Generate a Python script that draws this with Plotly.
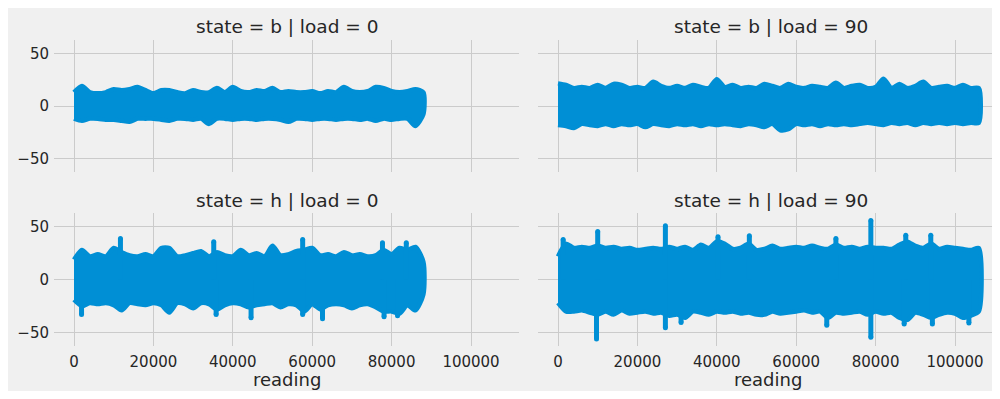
import plotly.graph_objects as go

# ---------------- data ----------------
step = 2000  # readings between envelope samples

upper_b0 = [13, 19, 13, 12, 13, 16, 15, 16, 18, 15, 12, 15, 15, 13, 12, 15, 13, 13, 17, 13, 18, 14, 13, 15, 14,
            17, 13, 14, 13, 13, 14, 12, 14, 13, 18, 14, 13, 14, 18, 17, 14, 13, 14, 16, 13]
lower_b0 = [-12, -14, -12, -12, -13, -13, -14, -15, -12, -12, -12, -13, -14, -12, -12, -13, -12, -17, -12, -12,
            -13, -12, -12, -13, -12, -12, -13, -15, -12, -12, -13, -12, -12, -13, -12, -12, -13, -12, -14, -12,
            -13, -12, -12, -19, -8]

upper_b90 = [21.5, 20, 17, 18, 17, 20, 17, 21, 20, 17, 18, 17, 23, 19, 17, 19, 17, 20, 18, 17, 25.5, 18, 20, 17,
             18, 17, 21, 19, 17, 21, 18, 17, 19, 18, 17, 22, 17, 19, 20, 17, 18, 26, 17, 21, 17, 19, 23, 17, 18,
             19, 17, 20, 17, 17]
lower_b90 = [-18, -19, -21, -17, -18, -19, -17, -19, -17, -18, -17, -20, -17, -18, -19, -17, -18, -17, -19, -17,
             -18, -17, -18, -19, -17, -18, -20, -17, -23, -22, -17, -18, -17, -19, -17, -18, -17, -18, -17, -16,
             -17, -18, -16, -17, -16, -18, -16, -17, -16, -17, -16, -17, -16, -16]

upper_h0 = [19, 28, 22, 24, 22, 30, 26, 23, 22, 24, 22, 30, 30, 22, 23, 25, 27, 22, 26, 23, 22, 28, 23, 25, 22,
            32, 23, 24, 27, 28, 30, 23, 24, 22, 26, 23, 24, 22, 23, 28, 24, 30, 28, 31, 17]
lower_h0 = [-19, -25, -22, -23, -22, -24, -29, -22, -23, -24, -22, -24, -31, -22, -23, -27, -22, -23, -28, -24,
            -22, -23, -26, -24, -23, -22, -26, -23, -24, -30, -23, -28, -24, -23, -24, -27, -24, -23, -26, -30,
            -30, -32, -24, -29, -14]

upper_h90 = [22, 34, 30, 31, 30, 32, 30, 31, 29, 30, 28, 29, 30, 29, 31, 29, 31, 28, 33, 30, 36, 34, 29, 30, 34,
             28, 29, 32, 29, 30, 31, 30, 32, 30, 29, 33, 30, 31, 29, 31, 30, 30, 29, 33, 36, 32, 30, 34, 29, 31,
             30, 29, 28, 30]
lower_h90 = [-22, -30, -30, -29, -31, -33, -30, -33, -29, -32, -31, -30, -32, -31, -34, -33, -36, -30, -31, -33,
             -30, -31, -30, -32, -31, -33, -33, -30, -32, -31, -30, -29, -31, -30, -36, -31, -32, -31, -30, -33,
             -30, -32, -31, -36, -38, -31, -33, -36, -33, -31, -32, -36, -34, -30]

# narrow peaks (reading, value)
spike_x_h0 = [11700, 35200, 57600, 77700, 83700, 1900, 35800, 44600, 57600, 62600, 78100, 81500]
spike_y_h0 = [39, 36, 38, 35, 35, -33, -33, -36, -33, -37, -35, -34]
spike_x_h90 = [1300, 10000, 27050, 40300, 48200, 70000, 78800, 87600, 93900,
               9700, 27050, 31000, 67700, 78800, 87200, 94300, 103500]
spike_y_h90 = [38, 45.5, 51, 40.5, 41.5, 39, 56, 42, 42,
               -56, -45.5, -40.5, -43, -54.5, -42, -42, -41]

panels = [
    ("b", "0", upper_b0, lower_b0, [], []),
    ("b", "90", upper_b90, lower_b90, [], []),
    ("h", "0", upper_h0, lower_h0, spike_x_h0, spike_y_h0),
    ("h", "90", upper_h90, lower_h90, spike_x_h90, spike_y_h90),
]

x_tickvals = [0, 20000, 40000, 60000, 80000, 100000]
x_ticktext = ["0", "20000", "40000", "60000", "80000", "100000"]
y_tickvals = [-50, 0, 50]
y_ticktext = ["\u221250", "0", "50"]

# ---------------- figure ----------------
OX, OY = 8, 8          # page offset of the figure (body margin)
W, H = 992, 383        # figure size
BLUE = "#008fd5"
BG = "#f0f0f0"
GRID = "#cbcbcb"
TXT = "#262626"
FONT = "DejaVu Sans"

px_per_reading = 0.00397
# page-pixel positions measured on the reference
left_dom_px = (54, 519)
right_dom_px = (538, 1000)
top_dom_px = (40, 172)
bot_dom_px = (213.4, 346)

def fx(p):
    return (p - OX) / W

def fy(p):
    return (H - (p - OY)) / H

def xdom(p):
    return [fx(p[0]), min(1.0, fx(p[1]))]

def ydom(p):
    return [fy(p[1]), fy(p[0])]

xr_left = [-(74 - 54) / px_per_reading, (519 - 74) / px_per_reading]
xr_right = [-(558 - 538) / px_per_reading, (1000 - 558) / px_per_reading]
yr = [-62.7, 62.7]

fig = go.Figure()

axis_ids = [("x", "y"), ("x2", "y2"), ("x3", "y3"), ("x4", "y4")]
for (state, load, up, lo, sx, sy), (xa, ya) in zip(panels, axis_ids):
    xs = [i * step for i in range(len(up))]
    fig.add_trace(go.Scatter(
        x=xs + xs[::-1], y=up + lo[::-1], xaxis=xa, yaxis=ya,
        mode="lines", fill="toself", fillcolor=BLUE,
        line=dict(color=BLUE, width=4.5, shape="spline", smoothing=0.7),
        hoverinfo="skip", showlegend=False))
    if sx:
        px_, py_ = [], []
        for a, b in zip(sx, sy):
            px_ += [a, a, None]
            py_ += [0, b, None]
        fig.add_trace(go.Scatter(
            x=px_, y=py_, xaxis=xa, yaxis=ya, mode="lines",
            line=dict(color=BLUE, width=5), hoverinfo="skip", showlegend=False))
        # rounded tips
        fig.add_trace(go.Scatter(
            x=sx, y=sy, xaxis=xa, yaxis=ya, mode="markers",
            marker=dict(color=BLUE, size=5, line=dict(width=0)),
            hoverinfo="skip", showlegend=False))

common_x = dict(showgrid=True, gridcolor=GRID, gridwidth=1, zeroline=False, showline=False,
                tickvals=x_tickvals, ticktext=x_ticktext, ticks="",
                tickfont=dict(family=FONT, size=15, color=TXT))
common_y = dict(showgrid=True, gridcolor=GRID, gridwidth=1, zeroline=False, showline=False,
                tickvals=y_tickvals, ticktext=y_ticktext, ticks="", range=yr,
                tickfont=dict(family=FONT, size=15, color=TXT))

fig.update_layout(
    width=W, height=H,
    margin=dict(l=0, r=0, t=0, b=0, pad=0),
    paper_bgcolor=BG,
    plot_bgcolor=BG,
    xaxis=dict(common_x, domain=xdom(left_dom_px), range=xr_left, anchor="y", showticklabels=False),
    yaxis=dict(common_y, domain=ydom(top_dom_px), anchor="x", showticklabels=True, ticklabelstandoff=4),
    xaxis2=dict(common_x, domain=xdom(right_dom_px), range=xr_right, anchor="y2", showticklabels=False),
    yaxis2=dict(common_y, domain=ydom(top_dom_px), anchor="x2", showticklabels=False),
    xaxis3=dict(common_x, domain=xdom(left_dom_px), range=xr_left, anchor="y3", showticklabels=True, ticklabelstandoff=5),
    yaxis3=dict(common_y, domain=ydom(bot_dom_px), anchor="x3", showticklabels=True, ticklabelstandoff=4),
    xaxis4=dict(common_x, domain=xdom(right_dom_px), range=xr_right, anchor="y4", showticklabels=True, ticklabelstandoff=5),
    yaxis4=dict(common_y, domain=ydom(bot_dom_px), anchor="x4", showticklabels=False),
)

left_c = fx((54 + 519) / 2)
right_c = fx((538 + 1003) / 2)
ann = []
for (state, load, *_), (cx, ty) in zip(panels, [(left_c, 26), (right_c, 26), (left_c, 200), (right_c, 200)]):
    ann.append(dict(text=f"state = {state} | load = {load}", x=cx, y=fy(ty), xref="paper", yref="paper",
                    showarrow=False, xanchor="center", yanchor="middle",
                    font=dict(family=FONT, size=18.5, color=TXT)))
for cx in (left_c, fx(768)):
    ann.append(dict(text="reading", x=cx, y=fy(379), xref="paper", yref="paper",
                    showarrow=False, xanchor="center", yanchor="middle",
                    font=dict(family=FONT, size=18, color=TXT)))
fig.update_layout(annotations=ann)

fig.write_html("out.html")
